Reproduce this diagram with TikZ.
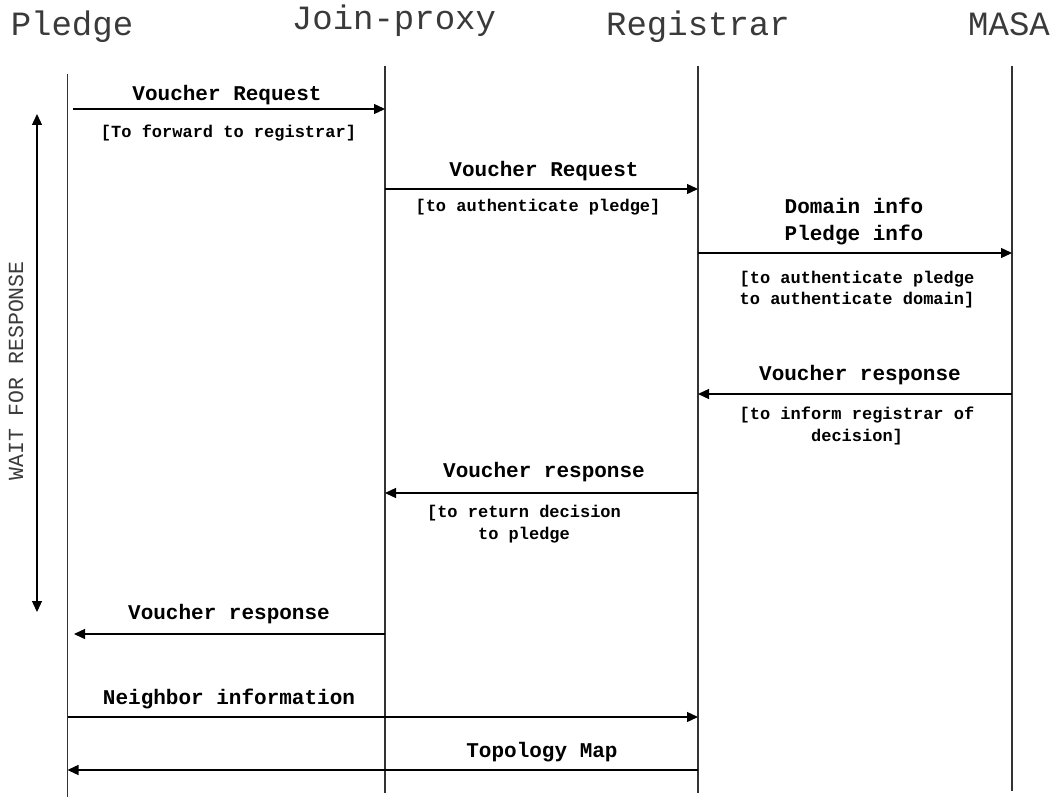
\documentclass[tikz,border=0pt]{standalone}
\usepackage{fontspec}
\usetikzlibrary{arrows.meta}
\newfontfamily\seqmono{Liberation Mono}
\definecolor{lineclr}{HTML}{333333}
\definecolor{headclr}{HTML}{3A3A3A}
\begin{document}
\begin{tikzpicture}[x=1pt,y=-1pt,
  lifeline/.style={draw=lineclr,line width=1.3pt},
  msg/.style={draw=black,line width=1.3pt,-{Triangle[length=11pt,width=10pt]}},
  waitarrow/.style={draw=black,line width=1.3pt,{Triangle[length=11pt,width=10pt]}-{Triangle[length=11pt,width=10pt]}},
  header/.style={font=\seqmono\fontsize{34}{38}\selectfont,text=headclr,inner sep=0pt,anchor=base},
  label/.style={font=\seqmono\bfseries\fontsize{21}{26.5}\selectfont,inner sep=0pt,anchor=base,align=center},
  note/.style={font=\seqmono\bfseries\fontsize{17}{21.5}\selectfont,inner sep=0pt,anchor=base,align=center},
  side/.style={font=\seqmono\fontsize{21.5}{24}\selectfont,text=headclr,inner sep=0pt,rotate=90}]
\useasboundingbox (0,0) rectangle (1060,797);

% participants
\node[header] (hP) at (72,35.5) {Pledge};
\node[header] (hJ) at (394,29.5) {Join-proxy};
\node[header] (hR) at (698,35.5) {Registrar};
\node[header] (hM) at (1009,35.5) {MASA};

% lifelines
\coordinate (Ptop) at (67.5,74);  \coordinate (Pbot) at (67.5,797);
\coordinate (Jtop) at (385,66);   \coordinate (Jbot) at (385,793);
\coordinate (Rtop) at (698,66);   \coordinate (Rbot) at (698,793);
\coordinate (Mtop) at (1012,66);  \coordinate (Mbot) at (1012,791);
\draw[lifeline] (Ptop) -- (Pbot);
\draw[lifeline] (Jtop) -- (Jbot);
\draw[lifeline] (Rtop) -- (Rbot);
\draw[lifeline] (Mtop) -- (Mbot);

% message end points
\coordinate (m1a) at (73,109);   \coordinate (m1b) at (385,109);
\coordinate (m2a) at (385,189);  \coordinate (m2b) at (698,189);
\coordinate (m3a) at (698,253);  \coordinate (m3b) at (1012,253);
\coordinate (m4a) at (1012,394); \coordinate (m4b) at (698,394);
\coordinate (m5a) at (698,493);  \coordinate (m5b) at (385,493);
\coordinate (m6a) at (385,634);  \coordinate (m6b) at (74,634);
\coordinate (m7a) at (67.5,717); \coordinate (m7b) at (698,717);
\coordinate (m8a) at (698,770);  \coordinate (m8b) at (67.5,770);

% messages (multi-line texts are placed by the baseline of their last line)
\draw[msg] (m1a) -- (m1b);
\node[label] (l1) at (227,101) {Voucher Request};
\node[note] (n1) at (228.5,138) {[To forward to registrar]};

\draw[msg] (m2a) -- (m2b);
\node[label] (l2) at (544,176) {Voucher Request};
\node[note] (n2) at (538,211.5) {[to authenticate pledge]};

\draw[msg] (m3a) -- (m3b);
\node[label] (l3) at (854,240) {Domain info\\Pledge info};
\node[note] (n3) at (857,304.5) {[to authenticate pledge\\to authenticate domain]};

\draw[msg] (m4a) -- (m4b);
\node[label] (l4) at (860,380) {Voucher response};
\node[note] (n4) at (857,441) {[to inform registrar of\\decision]};

\draw[msg] (m5a) -- (m5b);
\node[label] (l5) at (544,477) {Voucher response};
\node[note] (n5) at (524,539) {[to return decision\\to pledge};

\draw[msg] (m6a) -- (m6b);
\node[label] (l6) at (229,619) {Voucher response};

\draw[msg] (m7a) -- (m7b);
\node[label] (l7) at (229,704) {Neighbor information};

\draw[msg] (m8a) -- (m8b);
\node[label] (l8) at (542,757) {Topology Map};

% waiting period
\coordinate (w1) at (37,114);
\coordinate (w2) at (37,612);
\draw[waitarrow] (w1) -- (w2);
\node[side] (wt) at (16,371) {WAIT FOR RESPONSE};
\end{tikzpicture}
\end{document}
